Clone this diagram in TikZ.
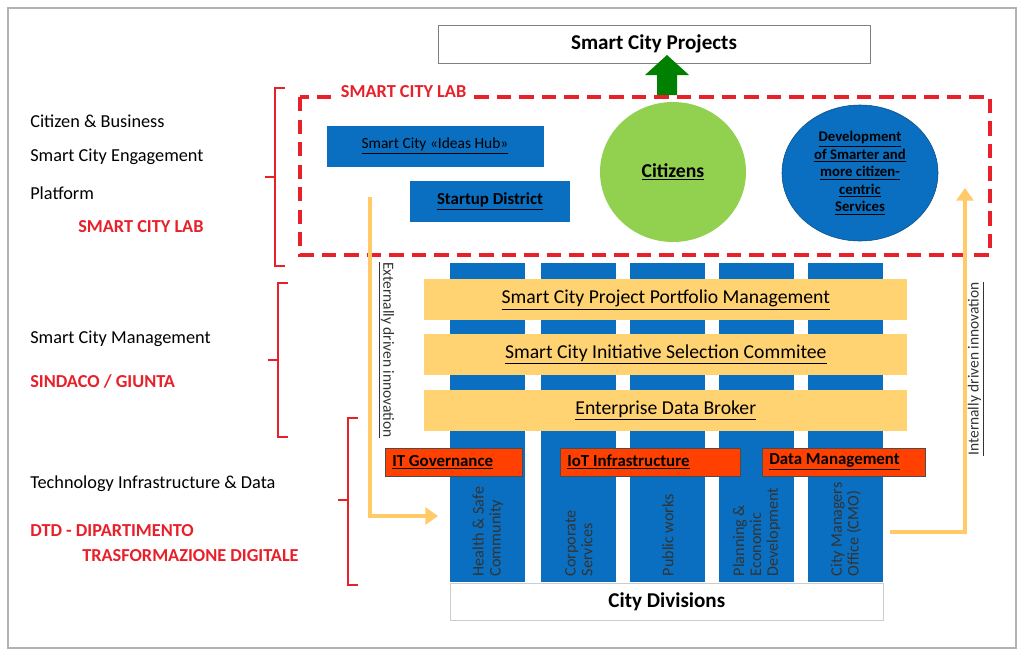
\documentclass[tikz,border=0pt]{standalone}
\usepackage{fontspec}
\setmainfont{Carlito}
\usetikzlibrary{positioning, arrows.meta, shapes.geometric}
\definecolor{cblue}{HTML}{0A6FC0}
\definecolor{cgreen}{HTML}{92D050}
\definecolor{cyellow}{HTML}{FFD272}
\definecolor{cred}{HTML}{FF4000}
\definecolor{lred}{HTML}{E8202A}
\tikzset{
  font=\normalsize,
  % Set arrowhead
  >=Stealth,
  % Blue box in the lab
  labbox/.style={draw=white, fill=cblue, minimum height=42*0.025cm, inner sep=0pt},
  % Division column
  column/.style={fill=cblue, minimum width=75*0.025cm, minimum height=319*0.025cm,
    anchor=north west, inner sep=0pt},
  % Yellow layer
  layer/.style={fill=cyellow, minimum width=483*0.025cm, minimum height=41*0.025cm,
    anchor=north west, inner sep=0pt, font=\fontsize{14}{16}\selectfont},
  % Red service box
  service/.style={draw=black!70, fill=cred, minimum height=28*0.025cm, anchor=north west,
    inner sep=0pt, text width=#1*0.025cm-10pt, align=flush left, minimum width=#1*0.025cm,
    font=\fontsize{12}{14}\selectfont\bfseries},
  % Left labels
  side/.style={anchor=west, inner sep=0pt, font=\fontsize{13}{15}\selectfont},
  sidered/.style={side, text=lred, font=\fontsize{13}{15}\selectfont\bfseries},
  % Brackets
  brace/.style={draw=lred, thick},
  % Innovation arrows
  flow/.style={draw=cyellow!90!orange, line width=2.5pt, -{Triangle[length=9pt,width=12pt]}},
}
\newcommand{\ul}[1]{\underline{#1}}
\begin{document}
\begin{tikzpicture}[x=0.025cm, y=-0.025cm]
  \useasboundingbox (0,0) rectangle (1026,658);
  \draw[black!30, line width=1.5pt] (8,8) rectangle (1016,648);

  % top
  \node[draw=black!50, minimum width=432*0.025cm, minimum height=38*0.025cm,
    font=\fontsize{15}{17}\selectfont\bfseries] (projects) at (654,44) {Smart City Projects};
  \fill[green!50!black] (657,95) -- (657,75) -- (645,75) -- (667,55) -- (689,75)
    -- (677,75) -- (677,95) -- cycle;

  % lab
  \draw[lred, line width=2.5pt, dash pattern=on 10pt off 6pt] (300,97) rectangle (990,255);
  \node[text=lred, fill=white, anchor=west, font=\fontsize{13}{15}\selectfont\bfseries]
    (lab) at (336,92) {SMART CITY LAB};
  \node[labbox, minimum width=218*0.025cm, font=\fontsize{11}{13}\selectfont]
    (hub) at (435,146) {\ul{Smart City «Ideas Hub»}};
  \node[labbox, minimum width=161*0.025cm, font=\fontsize{12}{14}\selectfont\bfseries]
    (startup) at (490,201) {\ul{Startup District}};
  \node[ellipse, fill=cgreen, minimum width=146*0.025cm, minimum height=140*0.025cm,
    font=\fontsize{14}{16}\selectfont\bfseries] (citizens) at (673,172) {\ul{Citizens}};
  \node[ellipse, draw=cblue!70!black, fill=cblue, minimum width=156*0.025cm,
    minimum height=136*0.025cm, align=center, font=\fontsize{10.5}{12.5}\selectfont\bfseries]
    (dev) at (860,173)
    {\ul{Development}\\\ul{of Smarter and}\\\ul{more citizen-}\\\ul{centric}\\\ul{Services}};

  % divisions
  \node[column] (c1) at (450,263) {};
  \node[column] (c2) at (541,263) {};
  \node[column] (c3) at (630,263) {};
  \node[column] (c4) at (719,263) {};
  \node[column] (c5) at (808,263) {};
  \foreach \n/\t in {c1/{Health \& Safe\\Community}, c2/{Corporate\\Services},
    c3/{Public works}, c4/{Planning \&\\Economic\\Development}, c5/{City Managers\\Office (CMO)}}
    \node[rotate=90, anchor=west, align=left, text=black!80,
      font=\fontsize{11.5}{12}\selectfont, inner sep=0pt] at ([yshift=0.15cm]\n.south) {\t};
  \node[draw=black!20, fill=white, minimum width=433*0.025cm, minimum height=37*0.025cm,
    anchor=north west, font=\fontsize{15}{17}\selectfont\bfseries] (divisions) at (450,583)
    {City Divisions};

  \node[layer] (portfolio) at (424,279) {\ul{Smart City Project Portfolio Management}};
  \node[layer] (selection) at (424,334) {\ul{Smart City Initiative Selection Commitee}};
  \node[layer] (broker) at (424,390) {\ul{Enterprise Data Broker}};

  \node[service=137] (itgov) at (385,448) {\ul{IT Governance}};
  \node[service=180] (iot) at (560,448) {\ul{IoT Infrastructure}};
  \node[service=163] (data) at (762,448) {\ul{Data Management}};

  % innovation arrows
  \coordinate (ext) at (370,197);
  \coordinate (ext2) at (370,516);
  \draw[flow] (ext) -- (ext2) -- ([xshift=-0.3cm]c1.west |- ext2);
  \node[rotate=-90, font=\fontsize{11}{13}\selectfont, text=black!80] at (386,350)
    {\ul{Externally driven innovation}};
  \coordinate (int) at (890,532);
  \coordinate (int2) at (965,532);
  \draw[flow] (int) -- (int2) -- (965,188);
  \node[rotate=90, font=\fontsize{11}{13}\selectfont, text=black!80] at (976,369)
    {\ul{Internally driven innovation}};

  % left side
  \node[side] (s1) at (30,121) {Citizen \& Business};
  \node[side] (s2) at (30,157) {Smart City Engagement};
  \node[side] (s3) at (30,193) {Platform};
  \node[sidered] (s4) at (78,227) {SMART CITY LAB};
  \node[side] (m1) at (30,339) {Smart City Management};
  \node[sidered] (m2) at (30,381) {SINDACO / GIUNTA};
  \node[side] (t1) at (30,484) {Technology Infrastructure \& Data};
  \node[sidered] (t2) at (30,531) {DTD - DIPARTIMENTO};
  \node[sidered] (t3) at (82,556) {TRASFORMAZIONE DIGITALE};

  % brackets
  \draw[brace] (285,88) -- (275,88) -- (275,266) -- (285,266) (275,177) -- (265,177);
  \draw[brace] (288,283) -- (278,283) -- (278,437) -- (288,437) (278,360) -- (268,360);
  \draw[brace] (358,418) -- (348,418) -- (348,585) -- (358,585) (348,500) -- (338,500);
\end{tikzpicture}
\end{document}
